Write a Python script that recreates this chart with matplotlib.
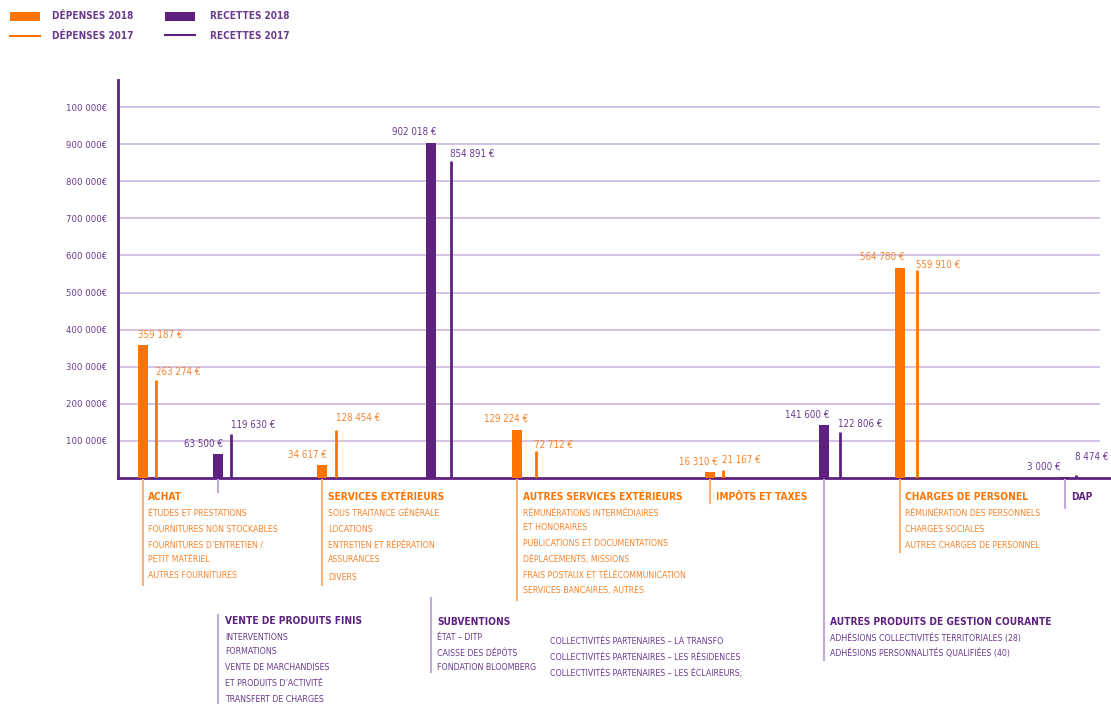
import matplotlib
matplotlib.use("Agg")
import matplotlib.pyplot as plt
from matplotlib.lines import Line2D
from matplotlib.patches import Rectangle

# ---------------- data ----------------
categories = ["ACHAT", "VENTE DE PRODUITS FINIS", "SERVICES EXTÉRIEURS", "SUBVENTIONS",
              "AUTRES SERVICES EXTÉRIEURS", "IMPÔTS ET TAXES",
              "AUTRES PRODUITS DE GESTION COURANTE", "CHARGES DE PERSONEL", "DAP"]
kind = ["dep", "rec", "dep", "rec", "dep", "dep", "rec", "dep", "rec"]
values_2018 = [359187, 63500, 34617, 902018, 129224, 16310, 141600, 564780, 3000]
values_2017 = [263274, 119630, 128454, 854891, 72712, 21167, 122806, 559910, 8474]
labels_2018 = ["359 187 €", "63 500 €", "34 617 €", "902 018 €", "129 224 €",
               "16 310 €", "141 600 €", "564 780 €", "3 000 €"]
labels_2017 = ["263 274 €", "119 630 €", "128 454 €", "854 891 €", "72 712 €",
               "21 167 €", "122 806 €", "559 910 €", "8 474 €"]
ytick_values = [100000, 200000, 300000, 400000, 500000, 600000, 700000, 800000, 900000, 1000000]
ytick_labels = ["100 000€", "200 000€", "300 000€", "400 000€", "500 000€",
                "600 000€", "700 000€", "800 000€", "900 000€", "100 000€"]
sub_items = [
    ["ÉTUDES ET PRESTATIONS", "FOURNITURES NON STOCKABLES", "FOURNITURES D’ENTRETIEN /",
     "PETIT MATÉRIEL", "AUTRES FOURNITURES"],
    ["INTERVENTIONS", "FORMATIONS", "VENTE DE MARCHANDISES", "ET PRODUITS D’ACTIVITÉ",
     "TRANSFERT DE CHARGES"],
    ["SOUS TRAITANCE GÉNÉRALE", "LOCATIONS", "ENTRETIEN ET RÉPÉRATION", "ASSURANCES", "DIVERS"],
    ["ÉTAT – DITP", "CAISSE DES DÉPÔTS", "FONDATION BLOOMBERG"],
    ["RÉMUNÉRATIONS INTERMÉDIAIRES", "ET HONORAIRES", "PUBLICATIONS ET DOCUMENTATIONS",
     "DÉPLACEMENTS, MISSIONS", "FRAIS POSTAUX ET TÉLÉCOMMUNICATION", "SERVICES BANCAIRES, AUTRES"],
    [],
    ["ADHÉSIONS COLLECTIVITÉS TERRITORIALES (28)", "ADHÉSIONS PERSONNALITÉS QUALIFIÉES (40)"],
    ["RÉMUNÉRATION DES PERSONNELS", "CHARGES SOCIALES", "AUTRES CHARGES DE PERSONNEL"],
    [],
]
sub_items_extra = ["COLLECTIVITÉS PARTENAIRES – LA TRANSFO",
                   "COLLECTIVITÉS PARTENAIRES – LES RÉSIDENCES",
                   "COLLECTIVITÉS PARTENAIRES – LES ÉCLAIREURS;"]
legend_labels = ["DÉPENSES 2018", "DÉPENSES 2017", "RECETTES 2018", "RECETTES 2017"]

# ---------------- layout / style ----------------
W, H = 1111, 704
ORANGE = "#FF7300"
ORANGE_TXT = "#F8842A"
PURPLE = "#5E2180"
PURPLE_TXT = "#6B3A8F"
GRID = "#CDB8DF"
LINK_O = "#F9B27A"
LINK_P = "#C3A9D9"
FONT = dict(family="DejaVu Sans", stretch="condensed")

x_bar = [143, 218, 322, 431, 517, 710, 824, 900, 1065]
x_line = [156, 231, 336, 451, 536, 723, 840, 917, 1076]
# label offsets in pixels (dx, dy) and alignment
off18 = [(-5, 10, "left"), (5, 10, "right"), (5, 10, "right"), (6, 11, "right"),
         (11, 11, "right"), (8, 10, "right"), (5, 10, "right"), (5, 11, "right"), (-4, 10, "right")]
off17 = [(0, 8, "left"), (0, 9, "left"), (0, 12, "left"), (-1, 7, "left"), (-2, 6, "left"),
         (-1, 10, "left"), (-2, 8, "left"), (-1, 5, "left"), (-1, 18, "left")]
# text blocks (x, heading y, item y list, link line y0, y1)
blocks = [
    (148, 497, [513, 529, 545, 560, 576], (480, 585)),
    (225, 621, [637, 652, 667, 683, 699], (615, 704)),
    (328, 497, [513, 529, 545, 560, 577], (480, 585)),
    (437, 622, [638, 653, 668], (598, 672)),
    (523, 497, [513, 528, 544, 559, 575, 591], (480, 600)),
    (716, 497, [], (480, 503)),
    (830, 622, [638, 653], (480, 660)),
    (905, 497, [513, 529, 546], (480, 552)),
    (1071, 497, [], (480, 508)),
]
extra_xy = (550, [641, 657, 673])


def P(x, y):
    return (x / W, 1 - y / H)


fig = plt.figure(figsize=(W / 100, H / 100), dpi=100)
fig.patch.set_facecolor("white")
ax = fig.add_axes([118 / W, 1 - 478 / H, (1110 - 118) / W, (478 - 80) / H])
ax.set_xlim(118, 1110)
ax.set_ylim(0, 1072800)
for s in ["top", "right"]:
    ax.spines[s].set_visible(False)
ax.spines["left"].set_color(PURPLE)
ax.spines["left"].set_linewidth(2)
ax.spines["bottom"].set_color(PURPLE)
ax.spines["bottom"].set_linewidth(2)
ax.set_xticks([])
ax.set_yticks(ytick_values)
ax.set_yticklabels(ytick_labels, color=PURPLE_TXT, fontsize=6.8, **FONT)
ax.tick_params(axis="y", length=0, pad=8)
ax.hlines(ytick_values, 118, 1100, color=GRID, lw=1.2, zorder=0)

for i in range(len(categories)):
    c = ORANGE if kind[i] == "dep" else PURPLE
    ct = ORANGE_TXT if kind[i] == "dep" else PURPLE_TXT
    ax.bar(x_bar[i], values_2018[i], width=10, color=c, zorder=3)
    ax.vlines(x_line[i], 0, values_2017[i], color=c, lw=2, zorder=3)
    dx, dy, ha = off18[i]
    ax.annotate(labels_2018[i], (x_bar[i], values_2018[i]), xytext=(dx, dy),
                textcoords="offset pixels", ha=ha, va="center", color=ct,
                fontsize=7, **FONT)
    dx, dy, ha = off17[i]
    ax.annotate(labels_2017[i], (x_line[i], values_2017[i]), xytext=(dx, dy),
                textcoords="offset pixels", ha=ha, va="center", color=ct,
                fontsize=7, **FONT)

# link lines and text blocks
for i, (tx, hy, iy, (ly0, ly1)) in enumerate(blocks):
    isdep = kind[i] == "dep"
    lc = LINK_O if isdep else LINK_P
    ct = ORANGE_TXT if isdep else PURPLE_TXT
    fig.add_artist(Line2D([P(x_bar[i], ly0)[0]] * 2, [P(0, ly0)[1], P(0, ly1)[1]],
                          color=lc, lw=1.5))
    fig.text(*P(tx, hy), categories[i], color=(ORANGE if isdep else PURPLE), fontsize=7.3,
             fontweight="bold", va="center", ha="left", **FONT)
    for t, y in zip(sub_items[i], iy):
        fig.text(*P(tx, y), t, color=ct, fontsize=6.3, va="center", ha="left", **FONT)
# stub below the VENTE bar
fig.add_artist(Line2D([P(x_bar[1], 0)[0]] * 2, [P(0, 480)[1], P(0, 492)[1]], color=LINK_P, lw=1.5))
for t, y in zip(sub_items_extra, extra_xy[1]):
    fig.text(*P(extra_xy[0], y), t, color=PURPLE_TXT, fontsize=6.3, va="center", ha="left", **FONT)

# legend
fig.add_artist(Rectangle(P(10, 21), 30 / W, 9 / H, transform=fig.transFigure,
                         color=ORANGE, lw=0))
fig.add_artist(Rectangle(P(165, 21), 30 / W, 9 / H, transform=fig.transFigure,
                         color=PURPLE, lw=0))
fig.add_artist(Line2D([10 / W, 40 / W], [P(0, 36)[1]] * 2, color=ORANGE, lw=1.5))
fig.add_artist(Line2D([165 / W, 195 / W], [P(0, 35)[1]] * 2, color=PURPLE, lw=1.5))
for t, (x, y) in zip(legend_labels, [(52, 16), (52, 36), (210, 16), (210, 36)]):
    fig.text(*P(x, y), t, color=PURPLE_TXT, fontsize=7.2, fontweight="bold",
             va="center", ha="left", **FONT)

fig.savefig("out.png", dpi=100)
